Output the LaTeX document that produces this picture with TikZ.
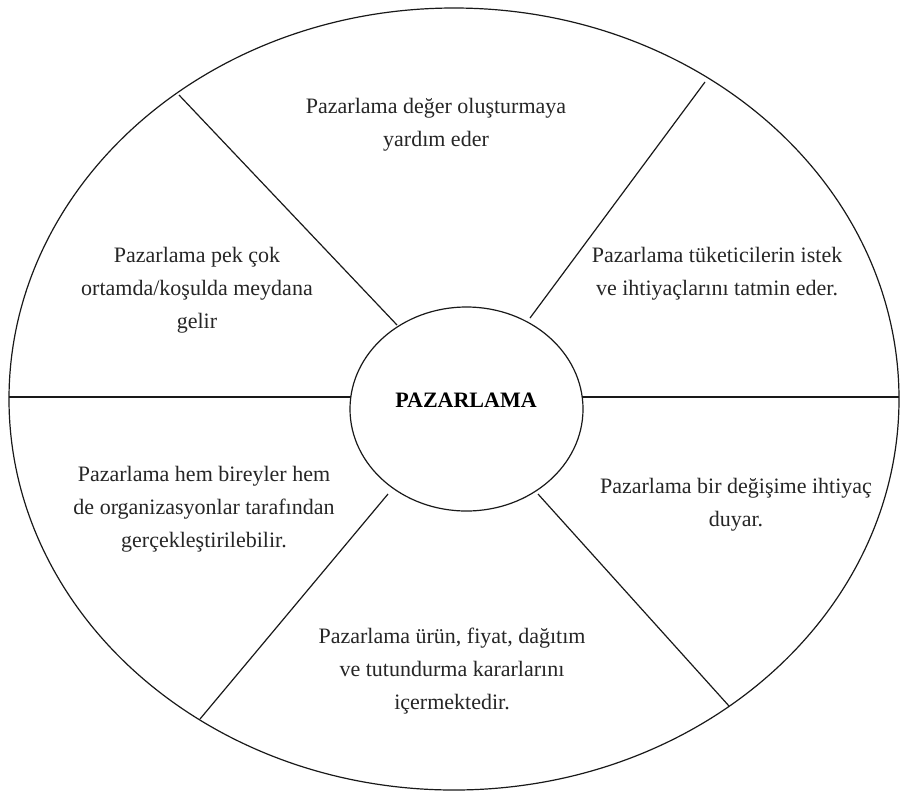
\documentclass[tikz,border=0pt]{standalone}
\usepackage{fontspec}
\setmainfont{Liberation Serif}
\usetikzlibrary{shapes.geometric}
\begin{document}
\begin{tikzpicture}[x=1pt,y=-1pt,
  rim/.style={draw=black!90, line width=1.2pt, ellipse, inner sep=0pt},
  divider/.style={draw=black!90, line width=1.2pt},
  label/.style={align=center, text=black!85, font=\fontsize{22}{33}\selectfont, inner sep=0pt}]
\useasboundingbox[fill=white] (0,0) rectangle (904,796);
% outer and inner ellipses
\node[rim, minimum width=890pt, minimum height=782pt] (outer) at (454,399) {};
\node[rim, minimum width=233pt, minimum height=204pt] (hub) at (466.5,409) {};
\node[label, font=\fontsize{22}{33}\selectfont\bfseries, text=black] (hublabel) at (466,400) {PAZARLAMA};
% divider end points
\coordinate (lO) at (9,397);    \coordinate (lI) at (351,397);
\coordinate (rO) at (899,397);  \coordinate (rI) at (582,397);
\coordinate (ulO) at (179,95);  \coordinate (ulI) at (397,325);
\coordinate (urO) at (705,82);  \coordinate (urI) at (530,318);
\coordinate (llO) at (200,719); \coordinate (llI) at (388,494);
\coordinate (lrO) at (729,706); \coordinate (lrI) at (538,494);
\draw[divider] (lO) -- (lI);
\draw[divider] (rO) -- (rI);
\draw[divider] (ulO) -- (ulI);
\draw[divider] (urO) -- (urI);
\draw[divider] (llO) -- (llI);
\draw[divider] (lrO) -- (lrI);
% sector texts
\node[label] (top) at (436,124.5) {Pazarlama değer oluşturmaya\\yardım eder};
\node[label] (upleft) at (197,290) {Pazarlama pek çok\\ortamda/koşulda meydana\\gelir};
\node[label] (upright) at (717,273.5) {Pazarlama tüketicilerin istek\\ve ihtiyaçlarını tatmin eder.};
\node[label] (lowleft) at (204,509) {Pazarlama hem bireyler hem\\de organizasyonlar tarafından\\gerçekleştirilebilir.};
\node[label] (lowright) at (736,504.5) {Pazarlama bir değişime ihtiyaç\\duyar.};
\node[label] (bottom) at (452,671) {Pazarlama ürün, fiyat, dağıtım\\ve tutundurma kararlarını\\içermektedir.};
\end{tikzpicture}
\end{document}
